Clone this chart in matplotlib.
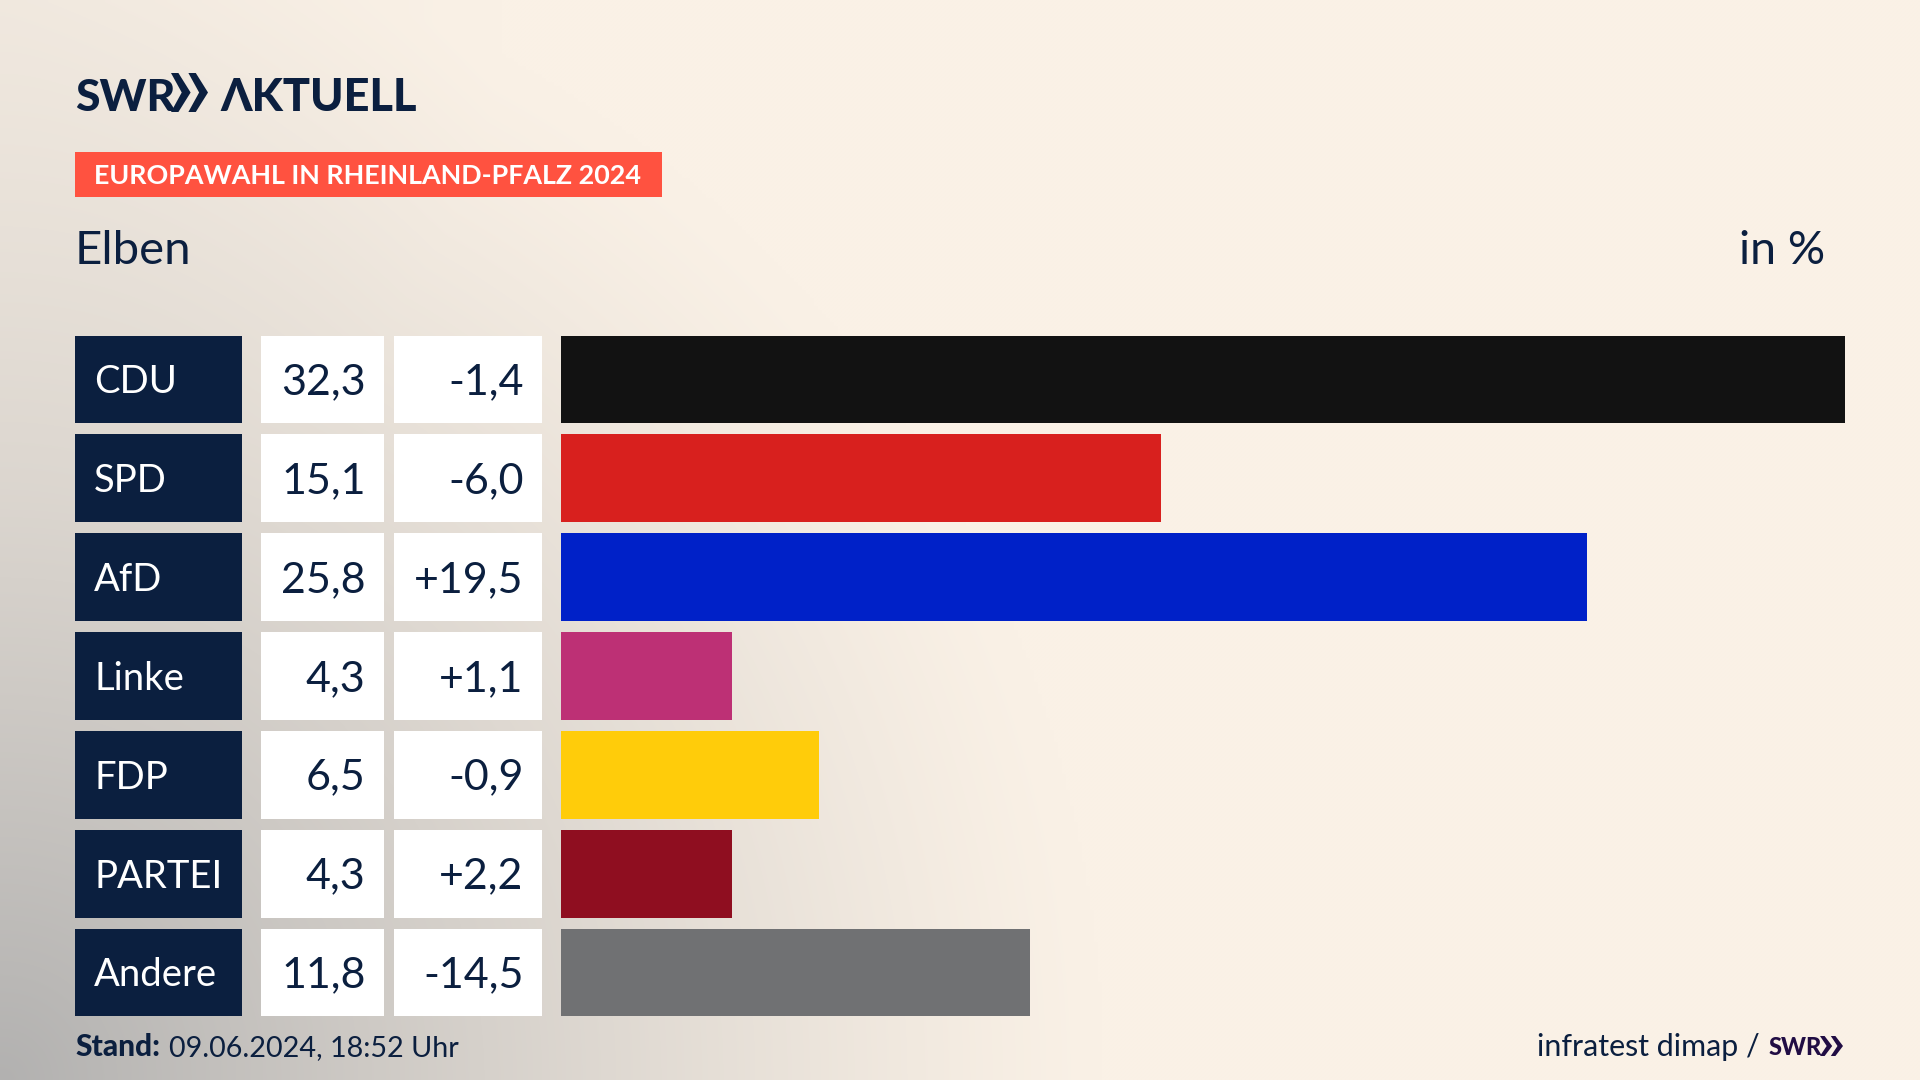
import numpy as np
import matplotlib
matplotlib.use("Agg")
import matplotlib.pyplot as plt
from matplotlib.patches import Polygon, Rectangle

# data
parties = ["CDU", "SPD", "AfD", "Linke", "FDP", "PARTEI", "Andere"]
shares = [32.3, 15.1, 25.8, 4.3, 6.5, 4.3, 11.8]
changes = ["-1,4", "-6,0", "+19,5", "+1,1", "-0,9", "+2,2", "-14,5"]
colors = ["#121212", "#D8201E", "#0021C8", "#BD3075", "#FFCC0A", "#8F0E20", "#707173"]

NAVY = "#0B1F3F"
W, H = 1920, 1080

plt.rcParams["font.family"] = ["Lato", "DejaVu Sans"]


def px_axes(fig, x0, y0, x1, y1):
    return fig.add_axes([x0 / W, 1 - y1 / H, (x1 - x0) / W, (y1 - y0) / H])


def chevrons(ax, x, top, bottom, width, color):
    # the two SWR arrows
    mid = (top + bottom) / 2
    for off in (0, width * 0.47):
        tip = x + off + width * 0.53
        ax.add_patch(Polygon([
            (x + off, top), (x + off + width * 0.2, top), (tip, mid),
            (x + off + width * 0.2, bottom), (x + off, bottom), (x + off + width * 0.29, mid),
        ], closed=True, fc=color, ec="none"))


fig = plt.figure(figsize=(W / 100, H / 100), dpi=100)

# background with the grey glow from the lower left
bg = fig.add_axes([0, 0, 1, 1])
xx, yy = np.meshgrid(np.arange(0, W, 4), np.arange(0, H, 4))
d = np.sqrt((xx / 1100) ** 2 + ((H - yy) / 1150) ** 2)
glow = np.clip(1 - d, 0, 1) ** 1.2
corner = np.clip(1 - np.sqrt(xx ** 2 + yy ** 2) / 500, 0, 1) * 0.1
glow = np.clip(glow + corner, 0, 1)
base = np.array([250, 241, 230]) / 255
grey = np.array([178, 177, 176]) / 255
img = base + (grey - base) * glow[..., None]
bg.imshow(img, extent=(0, W, H, 0), aspect="auto", interpolation="bilinear")
bg.set_xlim(0, W)
bg.set_ylim(H, 0)
bg.axis("off")

# header
bg.text(75, 111, "SWR", fontsize=32, fontweight=900, color=NAVY, va="baseline")
chevrons(bg, 171, 73, 112, 37, NAVY)
bg.text(220, 111, "ΛKTUELL", fontsize=32.5, fontweight=900, color=NAVY, va="baseline")
bg.add_patch(Rectangle((75, 152), 587, 45, fc="#FF5240", ec="none"))
bg.text(94, 184, "EUROPAWAHL IN RHEINLAND-PFALZ 2024", fontsize=19.4, fontweight="bold", color="white", va="baseline")
bg.text(75, 264, "Elben", fontsize=34, color=NAVY, va="baseline")
bg.text(1825, 264, "in %", fontsize=33.5, color=NAVY, ha="right", va="baseline")

# footer
bg.text(75, 1056, "Stand:", fontsize=21.5, fontweight=900, color=NAVY, va="baseline")
bg.text(169, 1056, "09.06.2024, 18:52 Uhr", fontsize=20.7, color=NAVY, va="baseline")
bg.text(1760, 1056, "infratest dimap /", fontsize=21.9, color=NAVY, ha="right", va="baseline")
bg.text(1769, 1055, "SWR", fontsize=17, fontweight=900, color="#210D44", va="baseline")
chevrons(bg, 1820, 1036, 1056, 23, "#210D44")

# table rows, one axes per column sharing the same row scale
TOP, BOTTOM = 336, 1016
rows = np.arange(len(parties))
ylim = (6.44, -0.44)
BAR_H = 0.89
BASE_OFF = 0.15

name_ax = px_axes(fig, 75, TOP, 242, BOTTOM)
value_ax = px_axes(fig, 261, TOP, 384, BOTTOM)
change_ax = px_axes(fig, 394, TOP, 542, BOTTOM)
bar_ax = px_axes(fig, 561, TOP, 1845, BOTTOM)

name_ax.barh(rows, 1, height=BAR_H, color=NAVY)
value_ax.barh(rows, 1, height=BAR_H, color="white")
change_ax.barh(rows, 1, height=BAR_H, color="white")
bar_ax.barh(rows, shares, height=BAR_H, color=colors)

for ax in (name_ax, value_ax, change_ax):
    ax.set_xlim(0, 1)
bar_ax.set_xlim(0, max(shares))

for ax in (name_ax, value_ax, change_ax, bar_ax):
    ax.set_ylim(*ylim)
    ax.axis("off")

for i, (party, share, change) in enumerate(zip(parties, shares, changes)):
    y = i + BASE_OFF
    name_ax.text(19 / 167, y - 0.01, party, fontsize=27.5, color="white", va="baseline")
    value_ax.text(104.5 / 123, y, f"{share:.1f}".replace(".", ","), fontsize=31, color=NAVY, ha="right", va="baseline")
    change_ax.text(129.5 / 148, y, change, fontsize=31, color=NAVY, ha="right", va="baseline")

fig.savefig("out.png", dpi=100)
plt.close(fig)
